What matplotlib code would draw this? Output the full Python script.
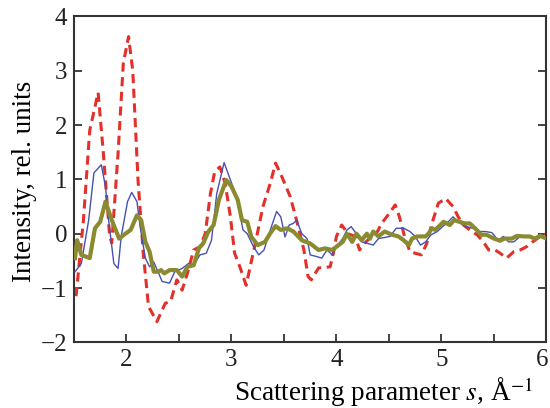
import matplotlib
matplotlib.use("Agg")
import matplotlib.pyplot as plt
from matplotlib.transforms import ScaledTranslation

red_x = [1.52, 1.59, 1.65, 1.73, 1.78, 1.84, 1.86, 1.92, 1.97, 2.02, 2.06, 2.11, 2.16, 2.21, 2.29,
         2.37, 2.42, 2.48, 2.53, 2.58, 2.64, 2.70, 2.75, 2.80, 2.84, 2.89, 2.94, 2.99, 3.03, 3.08,
         3.14, 3.22, 3.30, 3.37, 3.42, 3.48, 3.56, 3.62, 3.69, 3.73, 3.76, 3.83, 3.94, 3.97, 4.00,
         4.05, 4.11, 4.18, 4.22, 4.27, 4.33, 4.38, 4.43, 4.49, 4.56, 4.60, 4.65, 4.70, 4.75, 4.81,
         4.86, 4.91, 4.97, 5.04, 5.11, 5.16, 5.21, 5.29, 5.34, 5.40, 5.45, 5.51, 5.56, 5.62, 5.69,
         5.75, 5.81, 5.87, 5.94, 6.00]
red_y = [-1.15, 0.25, 1.9, 2.6, 1.48, -0.05, -0.17, 1.48, 3.14, 3.63, 3.0, 0.99, -0.36, -1.34, -1.62,
         -1.28, -1.25, -0.85, -1.04, -0.73, -0.30, -0.24, 0.0, 0.74, 1.14, 1.23, 0.93, 0.31, -0.36, -0.61,
         -0.95, -0.24, 0.50, 0.93, 1.30, 1.05, 0.68, 0.25, -0.30, -0.79, -0.85, -0.63, -0.61, -0.36, -0.05,
         0.16, 0.0, -0.05, -0.30, -0.17, -0.06, 0.0, 0.19, 0.34, 0.53, 0.31, -0.06, -0.33, -0.36, -0.39,
         -0.18, 0.19, 0.56, 0.65, 0.50, 0.31, 0.16, 0.04, -0.02, -0.15, -0.30, -0.30, -0.36, -0.45, -0.33,
         -0.30, -0.24, -0.15, -0.05, 0.0]

blue_x = [1.51, 1.57, 1.64, 1.69, 1.76, 1.80, 1.83, 1.88, 1.92, 1.95, 2.01, 2.05, 2.10, 2.13, 2.18,
          2.22, 2.26, 2.30, 2.34, 2.41, 2.46, 2.53, 2.59, 2.64, 2.70, 2.76, 2.81, 2.86, 2.93, 2.99,
          3.05, 3.11, 3.15, 3.21, 3.26, 3.31, 3.37, 3.43, 3.47, 3.51, 3.55, 3.59, 3.62, 3.67, 3.72,
          3.75, 3.81, 3.86, 3.91, 3.96, 4.00, 4.06, 4.10, 4.14, 4.19, 4.24, 4.30, 4.35, 4.40, 4.51,
          4.57, 4.64, 4.70, 4.75, 4.80, 4.85, 4.90, 4.96, 5.01, 5.05, 5.11, 5.18, 5.24, 5.30, 5.37,
          5.42, 5.48, 5.54, 5.59, 5.64, 5.69, 5.75, 5.83, 5.89, 5.94, 6.00]
blue_y = [-0.70, -0.55, 0.25, 1.12, 1.27, 0.87, 0.25, -0.55, -0.64, -0.05, 0.59, 0.76, 0.59, 0.13, -0.45,
          -0.61, -0.52, -0.70, -0.88, -0.91, -0.70, -0.64, -0.55, -0.58, -0.39, -0.36, -0.12, 0.74, 1.31, 0.99,
          0.68, 0.07, 0.0, -0.24, -0.39, -0.30, 0.07, 0.41, 0.31, -0.06, 0.16, 0.19, 0.25, 0.0, -0.09,
          -0.39, -0.42, -0.45, -0.30, -0.39, -0.24, -0.09, 0.07, 0.13, 0.0, -0.15, -0.18, -0.21, -0.09, -0.05,
          0.10, 0.10, 0.04, -0.05, -0.21, -0.15, -0.02, 0.04, 0.13, 0.19, 0.31, 0.19, 0.13, 0.10, 0.04,
          0.04, 0.02, -0.12, -0.05, -0.15, -0.15, -0.05, -0.05, -0.09, -0.05, -0.09]

olive_x = [1.51, 1.53, 1.57, 1.65, 1.70, 1.75, 1.80, 1.86, 1.93, 1.99, 2.04, 2.10, 2.14, 2.18, 2.22,
           2.26, 2.30, 2.33, 2.36, 2.41, 2.48, 2.53, 2.58, 2.64, 2.69, 2.73, 2.78, 2.83, 2.88, 2.95,
           3.00, 3.06, 3.10, 3.15, 3.19, 3.25, 3.32, 3.37, 3.42, 3.47, 3.53, 3.59, 3.67, 3.75, 3.83,
           3.89, 3.96, 4.02, 4.06, 4.10, 4.15, 4.19, 4.24, 4.29, 4.32, 4.35, 4.40, 4.46, 4.53, 4.59,
           4.64, 4.69, 4.72, 4.77, 4.85, 4.88, 4.91, 4.94, 4.99, 5.02, 5.08, 5.12, 5.17, 5.22, 5.27,
           5.32, 5.38, 5.43, 5.50, 5.56, 5.60, 5.67, 5.72, 5.78, 5.84, 5.89, 5.94, 6.00]
olive_y = [-0.45, -0.12, -0.39, -0.45, 0.10, 0.22, 0.59, 0.25, -0.09, 0.0, 0.07, 0.34, 0.25, -0.15, -0.33,
           -0.70, -0.70, -0.67, -0.73, -0.67, -0.67, -0.79, -0.61, -0.58, -0.27, -0.18, 0.04, 0.16, 0.62, 0.99,
           0.87, 0.62, 0.25, 0.22, -0.06, -0.21, -0.15, 0.01, 0.14, 0.07, 0.10, 0.04, -0.12, -0.18, -0.30,
           -0.27, -0.30, -0.21, -0.15, 0.0, -0.15, 0.0, -0.12, 0.0, -0.09, 0.04, -0.05, 0.04, -0.02, -0.05,
           -0.12, -0.21, -0.09, -0.05, -0.05, 0.01, 0.10, 0.07, 0.16, 0.22, 0.16, 0.25, 0.22, 0.19, 0.19,
           0.10, -0.02, -0.02, -0.09, -0.13, -0.09, -0.09, -0.04, -0.05, -0.05, -0.09, -0.04, -0.09]

x_ticks = [2, 3, 4, 5, 6]
y_ticks = [-2, -1, 0, 1, 2, 3, 4]
y_tick_labels = ['\u22122', '\u22121', '0', '1', '2', '3', '4']

plt.rcParams['font.family'] = ['Liberation Serif', 'DejaVu Serif']
plt.rcParams['mathtext.fontset'] = 'stix'

fig = plt.figure(figsize=(5.5, 4.08), dpi=100)
ax = fig.add_axes([0.1345, 0.161, 0.859, 0.7986])

ax.plot(red_x, red_y, color='#e3302a', lw=2.2, dashes=(3.0, 1.8), zorder=2)
ax.plot(blue_x, blue_y, color='#4650b5', lw=1.0, zorder=3)
ax.plot(olive_x, olive_y, color='#8a8a30', lw=3.0, zorder=4)

ax.set_xlim(1.5, 6)
ax.set_ylim(-2, 4)
ax.set_xticks(x_ticks)
ax.set_xticks([2.5, 3.5, 4.5, 5.5], minor=True)
ax.set_yticks(y_ticks)
ax.set_yticklabels(y_tick_labels)
ax.tick_params(axis='both', which='both', direction='in', length=6, width=1.2,
               labelsize=18, colors='#222222', right=True)
ax.tick_params(axis='x', which='major', pad=5)
ax.tick_params(axis='y', which='major', pad=5)
for s in ax.spines.values():
    s.set_linewidth(1.5)
    s.set_color('#333333')

# keep the last x tick label inside the figure
last = ax.get_xticklabels()[-1]
last.set_transform(last.get_transform() + ScaledTranslation(-4 / 100, 0, fig.dpi_scale_trans))

fig.text(0.045, 0.555, 'Intensity, rel. units', fontsize=19.5, rotation=90,
         ha='center', va='center')
fig.text(0.968, 0.018, 'Scattering parameter $s$, \u00c5$^{\u22121}$', fontsize=19.5,
         ha='right', va='baseline')

fig.savefig('out.png', dpi=100)
